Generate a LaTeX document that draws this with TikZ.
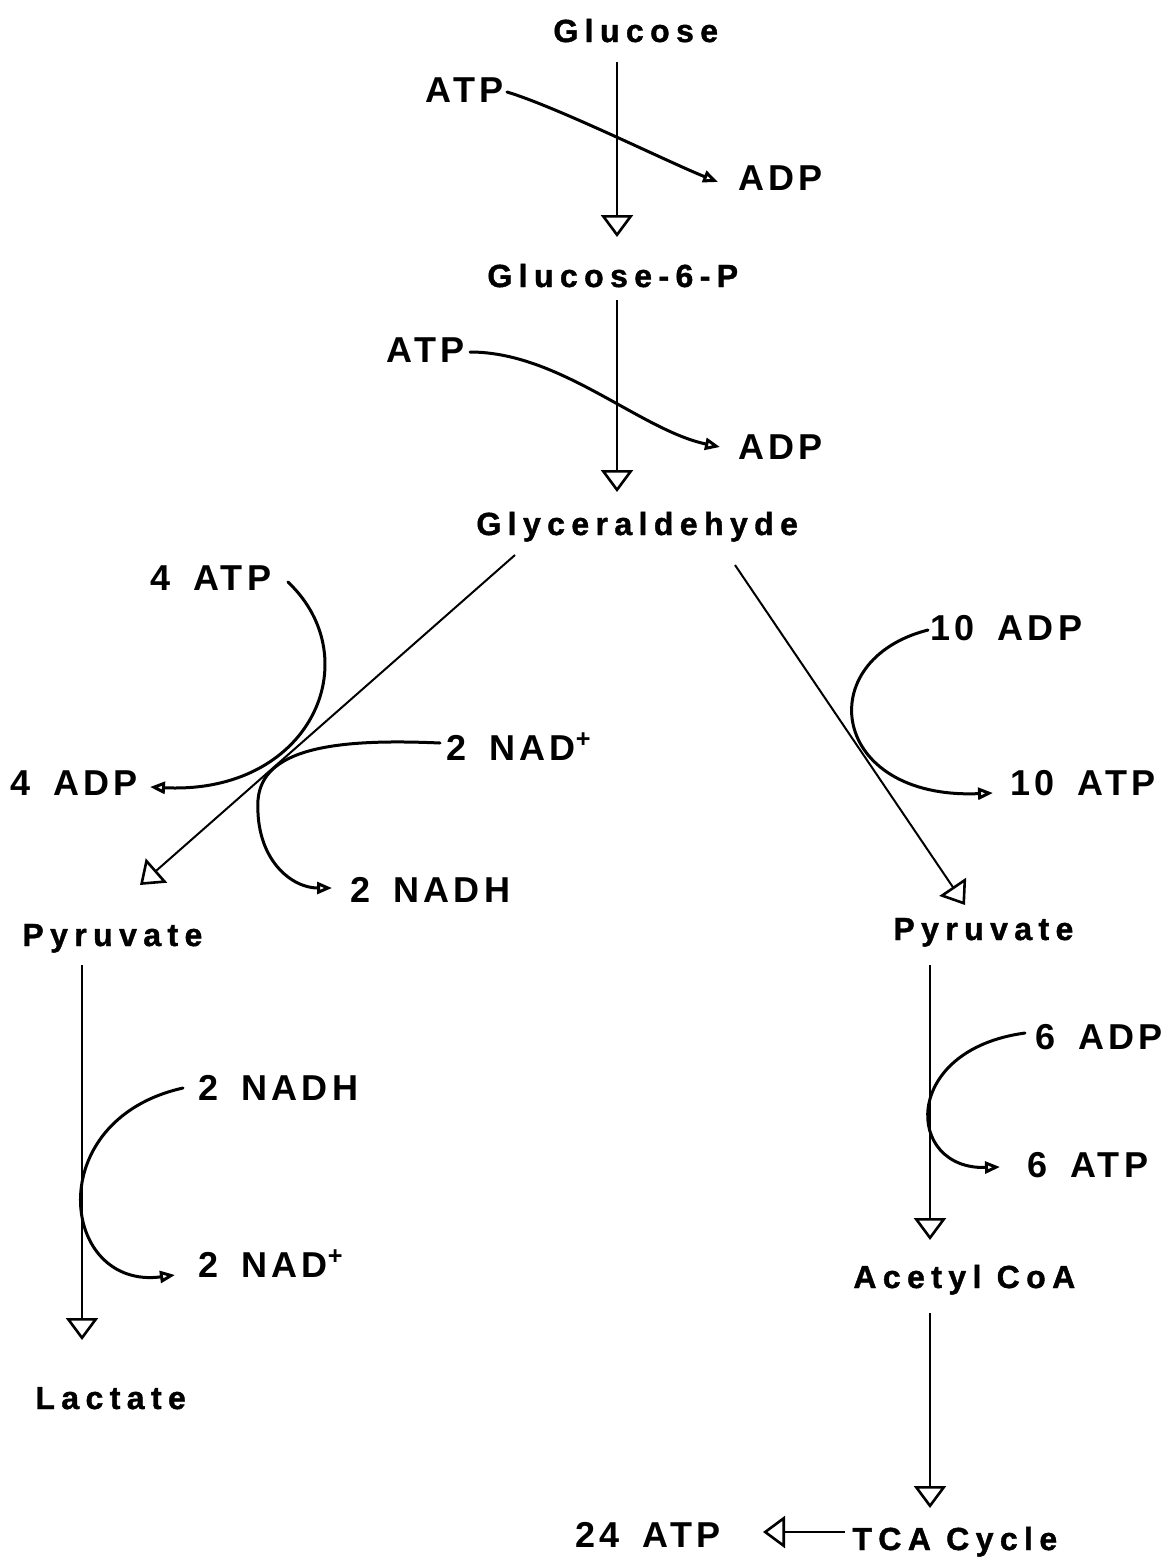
\documentclass[tikz,border=0pt]{standalone}
\usepackage{fontspec}
\newfontfamily\namefont{Liberation Sans}[LetterSpace=20, FakeBold=1.2]
\newfontfamily\cofont{Liberation Sans}[LetterSpace=12, WordSpace=1.6]
\usepackage{tikz}
\usetikzlibrary{arrows.meta,calc}
\tikzset{
  chem/.style={font=\namefont\fontsize{16}{18}\selectfont\bfseries, inner sep=0pt, anchor=base west},
  cofac/.style={font=\cofont\fontsize{18}{20}\selectfont\bfseries, inner sep=0pt, anchor=base west},
  flowln/.style={-{Triangle[open,length=11pt,width=16pt,line width=1.3pt]}, line width=1pt},
  sideln/.style={-{Triangle[open,length=7.5pt,width=6pt]}, line width=1.5pt, line cap=round},
}

\begin{document}
\begin{tikzpicture}[x=0.5pt,y=-0.5pt]
    \useasboundingbox (0,0) rectangle (1175,1564);
    % Main pathway
    \node[chem] (glc)  at (553,42)   {Glucose};
    \node[chem] (g6p)  at (487,287)  {Glucose-6-P};
    \node[chem] (gald) at (476,535)  {Glyceraldehyde};
    \node[chem] (pyrL) at (22,946)   {Pyruvate};
    \node[chem] (pyrR) at (893,940)  {Pyruvate};
    \node[chem] (lac)  at (35,1409)  {Lactate};
    \node[chem] (acoa) at (853,1288) {Acetyl CoA};
    \node[chem] (tca)  at (852,1550) {TCA Cycle};
    \node[cofac] (atp24) at (575,1547) {24 ATP};
    % Cofactors
    \node[cofac] (atpA)  at (425,102)  {ATP};
    \node[cofac] (adpA)  at (738,190)  {ADP};
    \node[cofac] (atpB)  at (386,362)  {ATP};
    \node[cofac] (adpB)  at (738,459)  {ADP};
    \node[cofac] (atp4)  at (150,590)  {4 ATP};
    \node[cofac] (adp4)  at (10,795)   {4 ADP};
    \node[cofac] (nadL)  at (446,760)  {2 NAD\textsuperscript{+}};
    \node[cofac] (nadhL) at (350,902)  {2 NADH};
    \node[cofac] (adp10) at (930,640)  {10 ADP};
    \node[cofac] (atp10) at (1010,795) {10 ATP};
    \node[cofac] (nadhM) at (198,1100) {2 NADH};
    \node[cofac] (nadM)  at (198,1277) {2 NAD\textsuperscript{+}};
    \node[cofac] (adp6)  at (1035,1049) {6 ADP};
    \node[cofac] (atp6)  at (1027,1177) {6 ATP};
    % Trunk arrows
    \draw[flowln] ($(glc.base west)+(64,20)$) -- ($(g6p.base west)+(130,-50)$);
    \draw[flowln] ($(g6p.base west)+(130,13)$) -- ($(gald.base west)+(141,-43)$);
    \draw[flowln] ($(gald.base west)+(39,20)$) -- ($(pyrL.base west)+(118,-61)$);
    \draw[flowln] ($(gald.base west)+(259,30)$) -- ($(pyrR.base west)+(72,-35)$);
    \draw[flowln] ($(pyrL.base west)+(60,19)$) -- ($(lac.base west)+(47,-69)$);
    \draw[flowln] ($(pyrR.base west)+(37,25)$) -- ($(acoa.base west)+(77,-48)$);
    \draw[flowln] ($(acoa.base west)+(77,25)$) -- ($(tca.base west)+(78,-42)$);
    \draw[flowln] ($(tca.base west)+(-7,-18)$) -- ($(atp24.base west)+(188,-15)$);
    % Side reactions
    \draw[sideln] ($(atpA.base west)+(82,-10)$) .. controls +(50,15) and +(-50,-20) .. ($(adpA.base west)+(-20,-8)$);
    \draw[sideln] ($(atpB.base west)+(84,-10)$) .. controls +(90,0) and +(-80,-17) .. ($(adpB.base west)+(-18,-12)$);
    \draw[sideln] ($(atp4.base west)+(138,-8)$) .. controls +(82,78) and +(160,8) .. ($(adp4.base west)+(140,-8)$);
    \draw[sideln] ($(nadL.base west)+(-6,-17)$) .. controls +(-110,-5) and +(4,-50) .. (258,800)
      .. controls +(-3,60) and +(-40,0) .. ($(nadhL.base west)+(-18,-14)$);
    \draw[sideln] ($(adp10.base west)+(-2,-10)$) .. controls +(-118,30) and +(-163,7) .. ($(atp10.base west)+(-17,-2)$);
    \draw[sideln] ($(nadhM.base west)+(-15,-12)$) .. controls +(-143,32) and +(-115,15) .. ($(nadM.base west)+(-23,-2)$);
    \draw[sideln] ($(adp6.base west)+(-10,-16)$) .. controls +(-125,17) and +(-95,3) .. ($(atp6.base west)+(-27,-10)$);
\end{tikzpicture}
\end{document}
